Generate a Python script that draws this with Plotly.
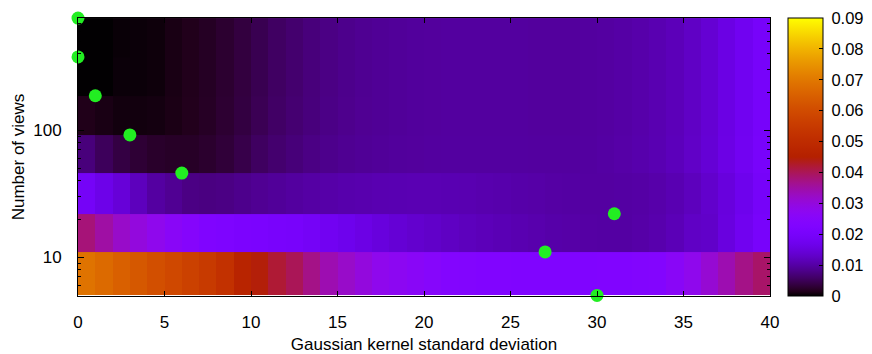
import math

import plotly.graph_objects as go

# x edges: gaussian kernel sigma, y edges: number of views
sigma = list(range(41))
views = [5, 11, 22, 46, 92, 187, 378, 766]

# error per cell, one row per band between two view counts (bottom to top)
row_5_11 = [0.069, 0.067, 0.065, 0.063, 0.061, 0.059, 0.057, 0.055, 0.052, 0.047,
            0.0445, 0.042, 0.040, 0.037, 0.034, 0.032, 0.030, 0.028, 0.027, 0.026,
            0.025, 0.024, 0.0235, 0.023, 0.0228, 0.0225, 0.0225, 0.0225, 0.0225, 0.0226,
            0.0228, 0.023, 0.0235, 0.024, 0.026, 0.028, 0.031, 0.034, 0.037, 0.039]
row_11_22 = [0.038, 0.035, 0.032, 0.030, 0.028, 0.026, 0.0245, 0.0225, 0.022, 0.0215,
             0.021, 0.0205, 0.020, 0.019, 0.018, 0.017, 0.016, 0.015, 0.0142, 0.0135,
             0.013, 0.0125, 0.012, 0.0117, 0.0113, 0.011, 0.0107, 0.0104, 0.0102, 0.0100,
             0.0099, 0.0099, 0.0102, 0.0107, 0.0115, 0.0127, 0.013, 0.0153, 0.0176, 0.020]
row_22_46 = [0.019, 0.0165, 0.0145, 0.012, 0.0098, 0.0088, 0.0078, 0.0076, 0.0078, 0.0083,
             0.0088, 0.0092, 0.0096, 0.0100, 0.0103, 0.0106, 0.0108, 0.0110, 0.0111, 0.0112,
             0.0112, 0.0111, 0.0110, 0.0108, 0.0106, 0.0104, 0.0102, 0.0100, 0.0099, 0.0098,
             0.0098, 0.0099, 0.0101, 0.0105, 0.0111, 0.012, 0.0133, 0.015, 0.017, 0.0195]
row_46_92 = [0.0072, 0.0052, 0.0038, 0.0030, 0.0024, 0.0022, 0.0022, 0.0026, 0.0032, 0.0042,
             0.0055, 0.0064, 0.0071, 0.0078, 0.0083, 0.0087, 0.0090, 0.0092, 0.0094, 0.0095,
             0.0096, 0.0097, 0.0097, 0.0097, 0.0097, 0.0097, 0.0096, 0.0096, 0.0096, 0.0097,
             0.0099, 0.0102, 0.0106, 0.0111, 0.0118, 0.0128, 0.0142, 0.016, 0.018, 0.020]
row_92_187 = [0.0014, 0.0011, 0.0008, 0.0008, 0.0009, 0.0012, 0.0016, 0.0021, 0.0028, 0.0037,
              0.0048, 0.0058, 0.0066, 0.0073, 0.0079, 0.0084, 0.0088, 0.0090, 0.0092, 0.0094,
              0.0095, 0.0096, 0.0096, 0.0096, 0.0096, 0.0096, 0.0095, 0.0095, 0.0095, 0.0096,
              0.0098, 0.0101, 0.0105, 0.011, 0.0117, 0.0127, 0.014, 0.0158, 0.0178, 0.0198]
row_187_378 = [0.0001, 0.0001, 0.0005, 0.0005, 0.0006, 0.0011, 0.0015, 0.002, 0.0027, 0.0036,
               0.0046, 0.0056, 0.0064, 0.0072, 0.0078, 0.0083, 0.0087, 0.0090, 0.0092, 0.0094,
               0.0095, 0.0096, 0.0096, 0.0096, 0.0096, 0.0096, 0.0095, 0.0095, 0.0095, 0.0096,
               0.0098, 0.0101, 0.0105, 0.011, 0.0117, 0.0127, 0.014, 0.0158, 0.0178, 0.0198]
row_378_766 = [0.0001, 0.0001, 0.0004, 0.0005, 0.0006, 0.0011, 0.0015, 0.002, 0.0027, 0.0036,
               0.0046, 0.0056, 0.0064, 0.0072, 0.0078, 0.0083, 0.0087, 0.0090, 0.0092, 0.0094,
               0.0095, 0.0096, 0.0096, 0.0096, 0.0096, 0.0096, 0.0095, 0.0095, 0.0095, 0.0096,
               0.0098, 0.0101, 0.0105, 0.011, 0.0117, 0.0127, 0.014, 0.0158, 0.0178, 0.0198]

# best sigma for each number of views (green dots)
best_sigma = [30, 27, 31, 6, 3, 1, 0, 0]


def gnuplot_palette(n=64):
    # gnuplot default pm3d palette, rgbformulae 7,5,15
    scale = []
    for i in range(n + 1):
        t = i / n
        r = math.sqrt(t)
        g = t ** 3
        b = max(math.sin(2 * math.pi * t), 0.0)
        scale.append([t, f"rgb({round(r * 255)},{round(g * 255)},{round(b * 255)})"])
    return scale


FONT = dict(family="Liberation Sans, Arial, sans-serif", size=17, color="black")
CB_FONT = dict(family="Liberation Sans, Arial, sans-serif", size=16.5, color="black")

heat = go.Heatmap(
    x=sigma,
    y=views,
    z=[row_5_11, row_11_22, row_22_46, row_46_92, row_92_187, row_187_378, row_378_766],
    zmin=0,
    zmax=0.09,
    colorscale=gnuplot_palette(),
    zsmooth=False,
    hoverinfo="skip",
    colorbar=dict(
        x=1.0257,
        xanchor="left",
        xpad=0,
        y=1,
        yanchor="top",
        ypad=0,
        len=278,
        lenmode="pixels",
        thickness=35,
        thicknessmode="pixels",
        outlinewidth=1,
        outlinecolor="black",
        tick0=0,
        dtick=0.01,
        ticks="inside",
        ticklen=4,
        tickcolor="black",
        tickprefix="\u2005",
        tickfont=CB_FONT,
    ),
)

dots = go.Scatter(
    x=best_sigma,
    y=views,
    mode="markers",
    marker=dict(color="#22ee22", size=13, line=dict(width=0)),
    cliponaxis=False,
    hoverinfo="skip",
    showlegend=False,
)

fig = go.Figure(data=[heat, dots])
# page body adds 8px on the top and left, so the figure is 8px smaller
fig.update_layout(
    width=864,
    height=346,
    margin=dict(l=70, r=102, t=10, b=58, autoexpand=False),
    paper_bgcolor="white",
    plot_bgcolor="white",
    font=FONT,
    showlegend=False,
)
fig.update_xaxes(
    range=[0, 40],
    tick0=0,
    dtick=5,
    ticks="inside",
    ticklen=5,
    tickcolor="black",
    showgrid=False,
    zeroline=False,
    showline=True,
    linecolor="black",
    linewidth=1,
    mirror="allticks",
    tickfont=FONT,
    ticklabelstandoff=11,
    automargin=False,
    title=dict(text="Gaussian kernel standard deviation", font=FONT, standoff=6),
)
fig.update_yaxes(
    type="log",
    range=[0.6945, 2.8845],
    dtick=1,
    ticks="inside",
    ticklen=6,
    tickcolor="black",
    minor=dict(ticks="inside", ticklen=3, dtick="D1", tickcolor="black", showgrid=False),
    showgrid=False,
    zeroline=False,
    showline=True,
    linecolor="black",
    linewidth=1,
    mirror="allticks",
    tickfont=FONT,
    ticklabelstandoff=12,
    automargin=False,
    title=dict(text="Number of views", font=FONT, standoff=4),
)

fig.write_html("out.html")
